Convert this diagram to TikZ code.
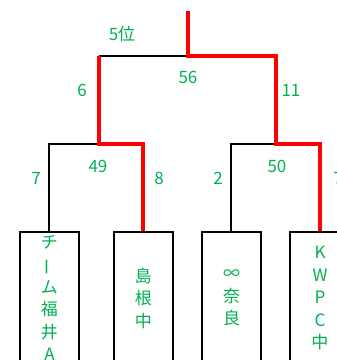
\documentclass[tikz,border=0pt]{standalone}
\usepackage{fontspec}
\setmainfont{Noto Sans CJK JP}
\usepackage{graphicx}
\definecolor{jgreen}{RGB}{0,176,80}
\begin{document}
\begin{tikzpicture}[x=1pt,y=-1pt,
  team/.style={draw=black,line width=2pt,minimum width=59pt,minimum height=132pt,inner sep=0pt,
    text=jgreen,align=center,font=\fontsize{17}{22.5}\selectfont},
  lab/.style={text=jgreen,font=\fontsize{17}{17}\selectfont,inner sep=0pt},
  loser/.style={draw=black,line width=2pt},
  winner/.style={draw=red,line width=4pt}]
\useasboundingbox (0,0) rectangle (337,360);
\clip (0,0) rectangle (337,360);
% team boxes
\node[team] (t1) at (49.5,298) {チ\\\rotatebox[origin=c]{90}{ー}\\ム\\福\\井\\A};
\node[team] (t2) at (143.5,298) {島\\根\\中};
\node[team] (t3) at (231.5,298) {∞\\奈\\良};
\node[team] (t4) at (320,298) {K\\W\\P\\C\\中};
% junction coordinates
\coordinate (top) at (188,11);
\coordinate (final) at (188,56);
\coordinate (s1) at (99,56);
\coordinate (s2) at (276,56);
\coordinate (j1) at (99,144);
\coordinate (j2) at (276,144);
% losing paths
\draw[loser] (final) -| (s1);
\draw[loser] (j1) -| (t1.north);
\draw[loser] (j2) -| (t3.north);
% winning paths
\draw[winner] (top) -- (final) -| (s2) -- (j2) -| (t4.north);
\draw[winner] (s1) -- (j1) -| (t2.north);
% labels
\node[lab] (l5) at (122,34) {5位};
\node[lab] (l56) at (188,77) {56};
\node[lab] (l6) at (82,90) {6};
\node[lab] (l11) at (291,90) {11};
\node[lab] (l7a) at (36,178) {7};
\node[lab] (l49) at (98,166) {49};
\node[lab] (l8) at (159,178) {8};
\node[lab] (l2) at (218,178) {2};
\node[lab] (l50) at (277,166) {50};
\node[lab] (l7b) at (338,178) {7};
\end{tikzpicture}
\end{document}
